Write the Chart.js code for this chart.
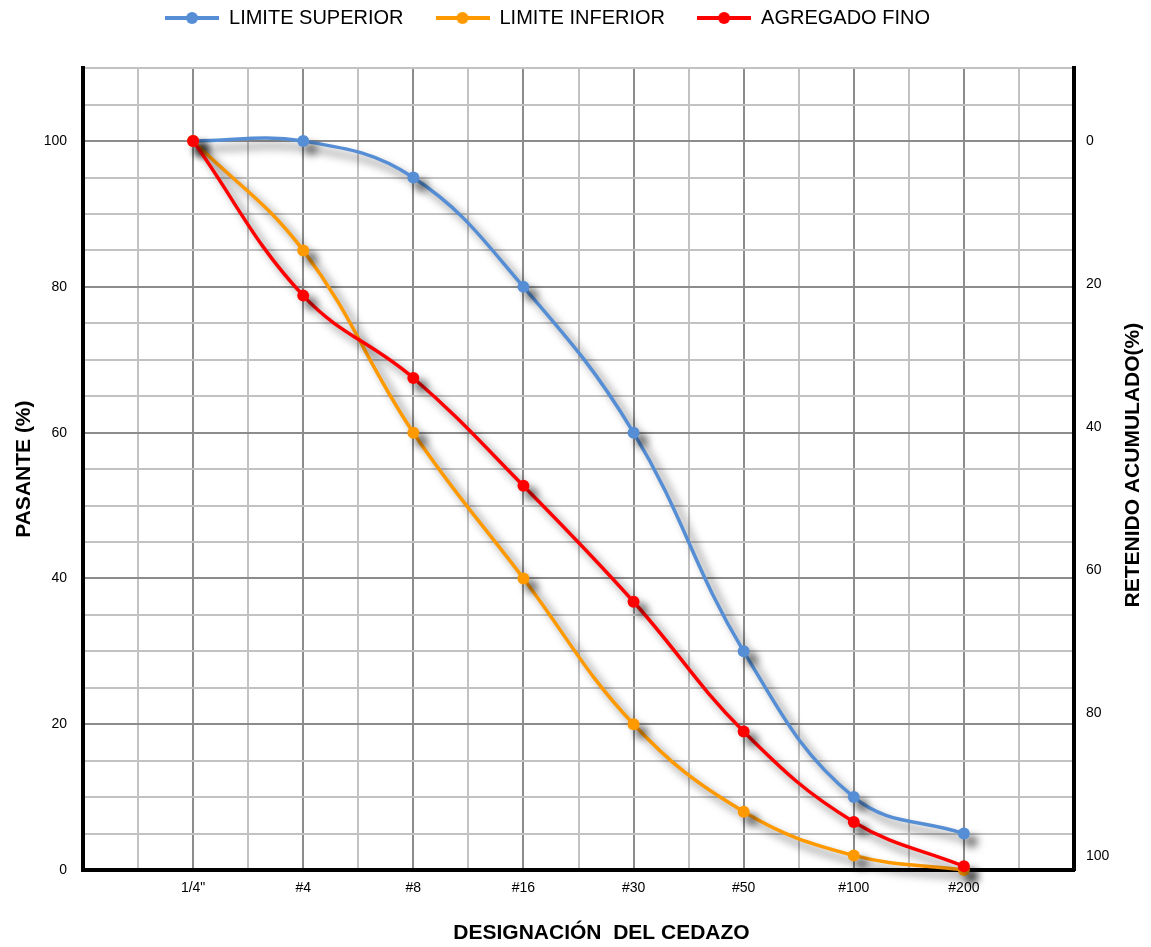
<!DOCTYPE html>
<html>
<head>
<meta charset="utf-8">
<title>Curva granulometrica</title>
<script src="https://cdn.jsdelivr.net/npm/chart.js@4"></script>
<style>
  body { margin: 0; background: #fff; }
  #wrap { width: 1151px; height: 947px; }
</style>
</head>
<body>
<div id="wrap"><canvas id="curva"></canvas></div>
<script>
// tamices y porcentajes que pasan
var sieves = ['1/4"', '#4', '#8', '#16', '#30', '#50', '#100', '#200'];
var limiteSuperior = [100, 100, 95, 80, 60, 30, 10, 5];
var limiteInferior = [100, 85, 60, 40, 20, 8, 2, 0];
var agregadoFino = [100, 78.8, 67.5, 52.7, 36.8, 19.0, 6.6, 0.5];
var pasanteTicks = [0, 20, 40, 60, 80, 100];
var retenidoTicks = [0, 20, 40, 60, 80, 100];

var FONT = '"Liberation Sans", Arial, sans-serif';
var colors = ['#558ED5', '#FF9900', '#FF0000'];

function toPoints(values) {
  return values.map(function (v, i) { return { x: i + 1, y: v }; });
}

// little line + dot used as legend marker
function legendIcon(color) {
  var c = document.createElement('canvas');
  c.width = 54;
  c.height = 14;
  var g = c.getContext('2d');
  g.strokeStyle = color;
  g.lineWidth = 4;
  g.beginPath();
  g.moveTo(0, 7);
  g.lineTo(54, 7);
  g.stroke();
  g.fillStyle = color;
  g.beginPath();
  g.arc(27, 7, 6, 0, Math.PI * 2);
  g.fill();
  return c;
}
var icons = colors.map(legendIcon);

var lineShadow = {
  id: 'lineShadow',
  beforeDatasetDraw: function (chart) {
    var ctx = chart.ctx;
    ctx.save();
    ctx.shadowColor = 'rgba(0,0,0,0.55)';
    ctx.shadowBlur = 9;
    ctx.shadowOffsetX = 8;
    ctx.shadowOffsetY = 8;
  },
  afterDatasetDraw: function (chart) {
    chart.ctx.restore();
  }
};

// legend sits a little left of centre in the original
var legendShift = {
  id: 'legendShift',
  afterLayout: function (chart) {
    chart.legend.left -= 28;
    chart.legend.right -= 28;
    chart.legend.top += 9;
    chart.legend.bottom += 9;
  }
};

// x title is a bit off-centre and the right title reads bottom-up
var extraTitles = {
  id: 'extraTitles',
  afterDraw: function (chart) {
    var ctx = chart.ctx, area = chart.chartArea;
    ctx.save();
    ctx.fillStyle = '#000';
    ctx.font = 'bold 21px ' + FONT;
    ctx.textAlign = 'center';
    ctx.textBaseline = 'middle';
    ctx.fillText('DESIGNACIÓN  DEL CEDAZO', (area.left + area.right) / 2 + 23, area.bottom + 63);
    ctx.translate(area.right + 59, (area.top + area.bottom) / 2 - 4);
    ctx.rotate(-Math.PI / 2);
    ctx.fillText('RETENIDO ACUMULADO(%)', 0, 0);
    ctx.restore();
  }
};

function gridColor(c, major) {
  return c.tick.value % major === 0 ? '#8c8c8c' : '#c2c2c2';
}

function makeDataset(label, values, color, order) {
  return {
    label: label,
    data: toPoints(values),
    borderColor: color,
    backgroundColor: color,
    borderWidth: 3.5,
    pointRadius: 6,
    pointHoverRadius: 6,
    pointBorderWidth: 0,
    tension: 0.4,
    clip: false,
    order: order
  };
}

var ctx = document.getElementById('curva').getContext('2d');
new Chart(ctx, {
  type: 'line',
  data: {
    datasets: [
      makeDataset('LIMITE SUPERIOR', limiteSuperior, colors[0], 3),
      makeDataset('LIMITE INFERIOR', limiteInferior, colors[1], 2),
      makeDataset('AGREGADO FINO', agregadoFino, colors[2], 1)
    ]
  },
  options: {
    responsive: true,
    maintainAspectRatio: false,
    animation: false,
    layout: { padding: { top: -33, left: 0, right: 0, bottom: 0 } },
    plugins: {
      tooltip: { enabled: false },
      legend: {
        position: 'top',
        weight: 3000,
        labels: {
          usePointStyle: true,
          pointStyleWidth: 54,
          padding: 32,
          color: '#000',
          font: { family: FONT, size: 20 },
          generateLabels: function (chart) {
            var items = Chart.defaults.plugins.legend.labels.generateLabels(chart);
            items.forEach(function (it) { it.pointStyle = icons[it.datasetIndex]; });
            return items;
          },
          sort: function (a, b) { return a.datasetIndex - b.datasetIndex; }
        }
      },
      // empty title used only as a spacer under the legend
      title: {
        display: true,
        text: '',
        font: { size: 1 },
        padding: { top: 0, bottom: 38 }
      }
    },
    scales: {
      x: {
        type: 'linear',
        min: 0,
        max: sieves.length + 1,
        ticks: {
          stepSize: 0.5,
          maxTicksLimit: 100,
          autoSkip: false,
          maxRotation: 0,
          padding: 10,
          color: '#000',
          font: { family: FONT, size: 14 },
          callback: function (v) {
            return Number.isInteger(v) && v >= 1 && v <= sieves.length ? sieves[v - 1] : '';
          }
        },
        grid: { color: function (c) { return gridColor(c, 1); }, lineWidth: 2, drawTicks: false },
        border: { color: '#000', width: 4 },
        afterFit: function (s) { s.height = 77; }
      },
      y: {
        min: 0,
        max: 110,
        ticks: {
          stepSize: 5,
          maxTicksLimit: 100,
          padding: 16,
          color: '#000',
          font: { family: FONT, size: 14 },
          callback: function (v) { return pasanteTicks.indexOf(v) >= 0 ? String(v) : ''; }
        },
        grid: { color: function (c) { return gridColor(c, 20); }, lineWidth: 2, drawTicks: false },
        border: { color: '#000', width: 4 },
        title: {
          display: true,
          text: 'PASANTE (%)',
          color: '#000',
          font: { family: FONT, size: 21, weight: 'bold' },
          padding: { top: 12, bottom: 0 }
        },
        afterFit: function (s) { s.width = 83; }
      },
      y1: {
        position: 'right',
        reverse: true,
        min: -10.2,
        max: 102,
        afterBuildTicks: function (s) {
          s.ticks = retenidoTicks.map(function (v) { return { value: v }; });
        },
        ticks: { padding: 12, color: '#000', font: { family: FONT, size: 14 } },
        grid: { drawOnChartArea: false, drawTicks: false },
        border: { color: '#000', width: 4 },
        afterFit: function (s) { s.width = 77; }
      }
    }
  },
  plugins: [lineShadow, legendShift, extraTitles]
});
</script>
</body>
</html>
